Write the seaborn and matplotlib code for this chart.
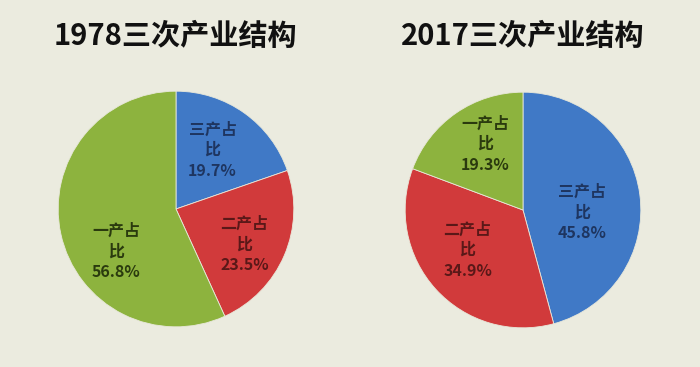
import matplotlib
matplotlib.use("Agg")
import matplotlib.pyplot as plt
import seaborn as sns

sns.set_style("white")
plt.rcParams['font.family'] = ['Noto Sans CJK SC', 'DejaVu Sans']

# Data
titles = ["1978三次产业结构", "2017三次产业结构"]
sectors = ["三产占比", "二产占比", "一产占比"]
values_1978 = [19.7, 23.5, 56.8]
values_2017 = [45.8, 34.9, 19.3]

colors = ["#4079C6", "#D13A3B", "#8DB33E"]
text_colors = ["#1E3560", "#5A1818", "#2A3A0E"]
bg = "#EBEBDF"

# label placement inside each pie (in radius units), like the source layout
label_pos = [
    [(0.31, 0.50), (0.58, -0.30), (-0.51, -0.36)],
    [(0.50, -0.02), (-0.47, -0.34), (-0.32, 0.56)],
]

W, H = 700, 367
fig = plt.figure(figsize=(W / 100, H / 100), dpi=100)
fig.patch.set_facecolor(bg)

centers = [(176, 209), (523, 210)]
radius_px = 119
title_x = [175, 523]

for i, vals in enumerate([values_1978, values_2017]):
    cx, cy = centers[i]
    w = 2 * radius_px / W
    h = 2 * radius_px / H
    ax = fig.add_axes([cx / W - w / 2, 1 - cy / H - h / 2, w, h])
    ax.set_facecolor("none")
    labels = [f"{s[:3]}\n{s[3:]}\n{v}%" for s, v in zip(sectors, vals)]
    wedges, texts = ax.pie(vals, colors=colors, startangle=90, counterclock=False,
                           radius=1, labels=labels, labeldistance=0.62,
                           wedgeprops=dict(linewidth=0.6, edgecolor="#E8E8DA"))
    for t, c, p in zip(texts, text_colors, label_pos[i]):
        t.set_position(p)
        t.set_ha("center")
        t.set_va("center")
        t.set_color(c)
        t.set_fontsize(11.5)
        t.set_fontweight("bold")
        t.set_linespacing(1.35)
    ax.set_xlim(-1.01, 1.01)
    ax.set_ylim(-1.01, 1.01)
    ax.axis("off")
    fig.text(title_x[i] / W, 1 - 36 / H, titles[i], ha="center", va="center",
             fontsize=21, fontweight="bold", color="#111111")

fig.savefig("out.png", dpi=100, facecolor=bg)
